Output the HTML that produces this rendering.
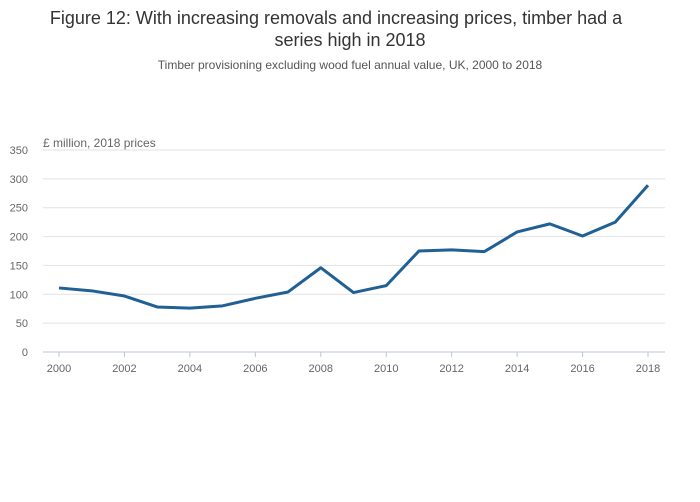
<!DOCTYPE html>
<html><head><meta charset="utf-8"><style>
body{margin:0;background:#fff;font-family:"Liberation Sans",sans-serif;}
svg{display:block}
</style></head><body>
<svg width="700" height="502">
<text x="336" y="24" text-anchor="middle" font-size="18" fill="#333">Figure 12: With increasing removals and increasing prices, timber had a</text>
<text x="350" y="46" text-anchor="middle" font-size="18" fill="#333">series high in 2018</text>
<text x="350" y="69" text-anchor="middle" font-size="12" fill="#555">Timber provisioning excluding wood fuel annual value, UK, 2000 to 2018</text>
<text x="43" y="147" font-size="12" fill="#666">£ million, 2018 prices</text>
<g id="grid"></g><g id="xaxis"></g>
<path id="line" fill="none" stroke="#206095" stroke-width="3" stroke-linejoin="round"/>
</svg>
<script>
const years=[2000,2001,2002,2003,2004,2005,2006,2007,2008,2009,2010,2011,2012,2013,2014,2015,2016,2017,2018];
const values=[111,106,97,78,76,80,93,104,146,103,115,175,177,174,208,222,201,225,289];
const yTicks=[0,50,100,150,200,250,300,350];
const xTicks=[2000,2002,2004,2006,2008,2010,2012,2014,2016,2018];
const ns="http://www.w3.org/2000/svg";
const X=y=>59+(y-2000)*(648-59)/18;
const Y=v=>352-v*202/350;
const g=document.getElementById('grid'),xa=document.getElementById('xaxis');
function mk(tag,at,parent){const e=document.createElementNS(ns,tag);for(const k in at)e.setAttribute(k,at[k]);parent.appendChild(e);return e;}
yTicks.forEach(t=>{
 const l=mk('line',{x1:43,x2:665,y1:Y(t),y2:Y(t),stroke:t===0?'#b8c4dc':'#e2e2e2','stroke-width':1},g);
 
 
 const tx=mk('text',{x:28,y:Y(t)+4,'text-anchor':'end','font-size':11,fill:'#666'},g);
 tx.textContent=t;
 
 
});
xTicks.forEach(t=>{
 const l=mk('line',{x1:X(t),x2:X(t),y1:352,y2:357,stroke:'#b8c4dc'},xa);
 
 
 const tx=mk('text',{x:X(t),y:372,'text-anchor':'middle','font-size':11,fill:'#666'},xa);
 tx.textContent=t;
 
 
});
document.getElementById('line').setAttribute('d',years.map((y,i)=>(i?'L':'M')+X(y)+','+Y(values[i])).join(''));
</script>
</body></html>
